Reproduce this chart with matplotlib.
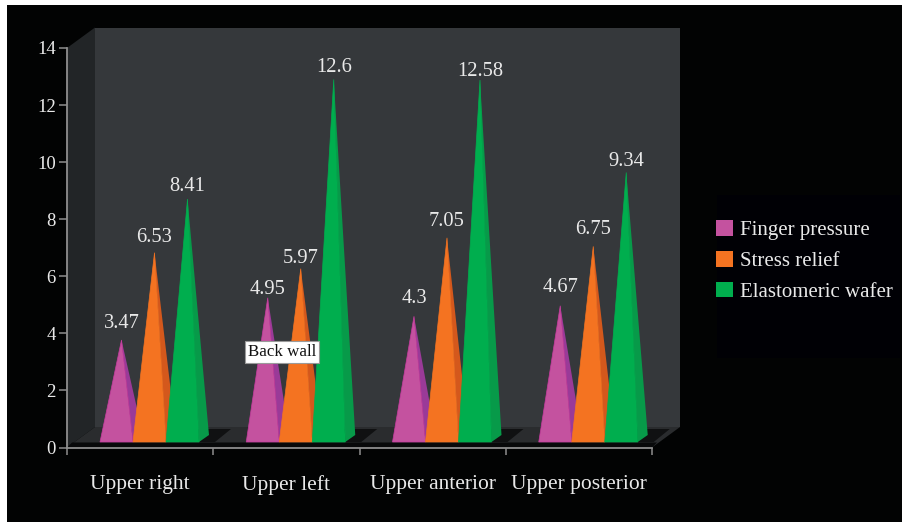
import matplotlib
matplotlib.use("Agg")
import matplotlib.pyplot as plt
from matplotlib.patches import Polygon, Rectangle, Patch

categories = ["Upper right", "Upper left", "Upper anterior", "Upper posterior"]
series_names = ["Finger pressure", "Stress relief", "Elastomeric wafer"]
finger_pressure = [3.47, 4.95, 4.3, 4.67]
stress_relief = [6.53, 5.97, 7.05, 6.75]
elastomeric_wafer = [8.41, 12.6, 12.58, 9.34]
value_labels = [["3.47", "4.95", "4.3", "4.67"],
                ["6.53", "5.97", "7.05", "6.75"],
                ["8.41", "12.6", "12.58", "9.34"]]
label_gaps = [[16, 8, 18, 18], [15, 10, 16, 17], [13, 12, 9, 11]]
y_ticks = [0, 2, 4, 6, 8, 10, 12, 14]

front_cols = ["#C4529F", "#F47321", "#00AE4E"]
side_cols = ["#9A3A98", "#D4581C", "#079A49"]
edge_cols = ["#C83AA0", "#F47321", "#00AE4E"]
W, H = 903, 522
X0, X1, Y0, Y1 = 67, 652, 447.5, 48
plt.rcParams["font.family"] = ["Liberation Serif", "DejaVu Serif"]
TXT = "#E9E9E9"

fig = plt.figure(figsize=(W / 100, H / 100), dpi=100, facecolor="white")
fig.add_artist(Rectangle((7 / W, 0), 1, 1 - 5 / H, transform=fig.transFigure,
                         fc="#020303", ec="none", zorder=-10))
fig.add_artist(Rectangle((717 / W, 1 - 358 / H), 183 / W, 163 / H, transform=fig.transFigure,
                         fc="#000005", ec="none", zorder=-9))
ax = fig.add_axes([X0 / W, 1 - Y0 / H, (X1 - X0) / W, (Y0 - Y1) / H])
ax.set_xlim(0, 4)
ax.set_ylim(0, 14)
ax.patch.set_visible(False)
PX = 4 / (X1 - X0)
PY = 14 / (Y0 - Y1)


def poly(seq, fc, z, **kw):
    kw.setdefault("ec", "none")
    ax.add_patch(Polygon(list(seq), closed=True, fc=fc, clip_on=False, zorder=z, **kw))


dx, dy = 28 * PX, 20.5 * PY
# back wall, side wall, floor
poly([(dx, dy), (4 + dx, dy), (4 + dx, 14 + dy), (dx, 14 + dy)], "#35383B", 1)
poly([(0, 0), (dx, dy), (dx, 14 + dy), (0, 14)], "#222527", 1)
poly([(0, 0), (4, 0), (4 + dx, dy), (dx, dy)], "#2A2C2E", 1.2)
# black front strip of the floor and shadows
poly([(0, 0), (4, 0), (4 + 5 * PX, 5 * PY), (5 * PX, 5 * PY)], "#08090A", 1.3)

GROUP_START = 33 * PX
BW = 33 * PX
BASE = 5.5 * PY
SIDE_X, SIDE_Y = 10 * PX, 7 * PY
APEX_X, APEX_Y = 5 * PX, 8.5 * PY
series = [finger_pressure, stress_relief, elastomeric_wafer]

for g in range(len(categories)):
    gx = g + GROUP_START
    # shadow behind each cluster
    poly([(gx, BASE), (gx + 3 * BW + SIDE_X + 6 * PX, BASE),
          (gx + 3 * BW + SIDE_X + 22 * PX, BASE + 13 * PY),
          (gx + 14 * PX, BASE + 13 * PY)], "#101112", 1.4)
    for s, vals in enumerate(series):
        L = gx + s * BW
        R = L + BW
        ax_, ay_ = L + BW / 2 + APEX_X, vals[g] + APEX_Y
        poly([(R, BASE), (R + SIDE_X, BASE + SIDE_Y), (ax_, ay_)], side_cols[s], 3 + s)
        poly([(L, BASE), (R, BASE), (ax_, ay_)], front_cols[s], 3.5 + s,
             lw=0.5, ec=edge_cols[s])
        ax.annotate(value_labels[s][g], (ax_, ay_), xytext=(0, label_gaps[s][g] * 0.72),
                    textcoords="offset points", ha="center", va="center",
                    color=TXT, fontsize=14.8, zorder=10, annotation_clip=False)

# axes furniture
for sp in ("top", "right"):
    ax.spines[sp].set_visible(False)
for sp in ("left", "bottom"):
    ax.spines[sp].set_color("#8E8E8E")
    ax.spines[sp].set_linewidth(1.3)
    ax.spines[sp].set_zorder(2)
ax.set_yticks(y_ticks)
ax.set_xticks(range(5))
ax.set_xticklabels([])
ax.set_xticks([i + 0.5 for i in range(4)], labels=categories, minor=True)
ax.tick_params(axis="x", which="major", length=5, width=1.1, color="#8E8E8E")
ax.tick_params(axis="x", which="minor", length=0, pad=20, labelsize=15.5, labelcolor=TXT)
ax.tick_params(axis="y", length=6, width=1.1, color="#8E8E8E", pad=2, labelsize=13.5, labelcolor=TXT)

# box label
ax.annotate("Back wall", (1 + 68.5 * PX, 3.36), ha="center", va="center", color="#111111",
            fontsize=12.2, zorder=12, annotation_clip=False,
            bbox=dict(boxstyle="square,pad=0.18", fc="white", ec="#9A9A9A", lw=0.8))

handles = [Patch(fc=c, ec="none") for c in front_cols]
ax.legend(handles, series_names, loc="center left", frameon=False,
          bbox_to_anchor=(716 / W, 1 - 261 / H), bbox_transform=fig.transFigure,
          fontsize=15, labelcolor=TXT, handlelength=0.8, handleheight=0.8,
          handletextpad=0.37, labelspacing=0.5, borderpad=0, borderaxespad=0)

fig.savefig("out.png", dpi=100, facecolor=fig.get_facecolor())
